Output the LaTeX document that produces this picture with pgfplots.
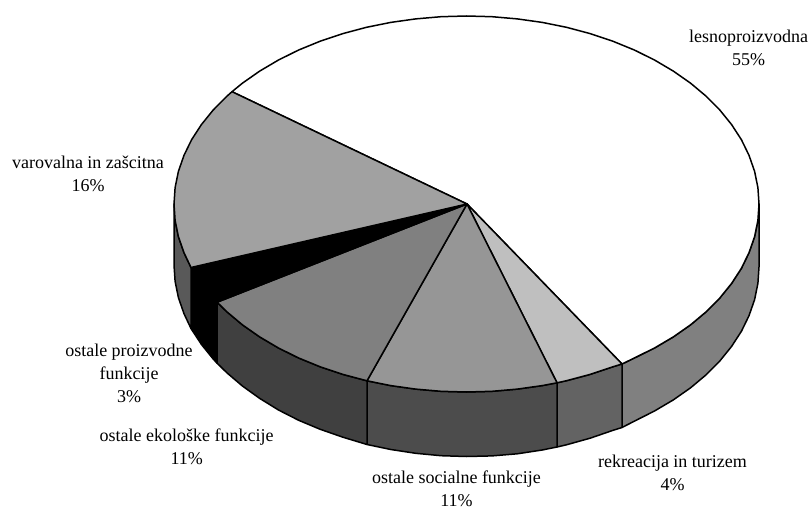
\documentclass[border=0pt]{standalone}
\usepackage{fontspec}
\setmainfont{Liberation Serif}
\usepackage{pgfplots}
\pgfplotsset{compat=1.18}
\definecolor{wallLes}{gray}{0.50}
\definecolor{wallRek}{gray}{0.39}
\definecolor{wallSoc}{gray}{0.30}
\definecolor{wallEko}{gray}{0.25}
\definecolor{wallVar}{gray}{0.35}
\definecolor{topRek}{gray}{0.75}
\definecolor{topSoc}{gray}{0.59}
\definecolor{topEko}{gray}{0.50}
\definecolor{topVar}{gray}{0.63}
\tikzset{lbl/.style={align=center, font=\fontsize{18}{23}\selectfont, text=black, inner sep=0pt}}
\begin{document}
\begin{tikzpicture}
\path[use as bounding box] (0,0) rectangle (811pt,508pt);
\begin{axis}[
  at={(0,0)}, anchor=south west,
  width=811pt, height=508pt, scale only axis,
  xmin=0, xmax=811, ymin=0, ymax=508, y dir=reverse,
  hide axis, clip=false,
  every axis plot/.append style={draw=black, line width=1.5pt, line join=round},
]
% side walls of the disc
\addplot[fill=wallLes] coordinates {(759,204)(757.9,220.4)(754.6,236.6)(749,252.7)(741.4,268.3)(731.6,283.4)(719.8,298)(706.1,311.8)(690.6,324.8)(673.3,336.9)(654.5,348)(634.3,358)(622,364)(622,427.5)(634.3,421.2)(654.5,411)(673.3,399.9)(690.6,387.8)(706.1,374.8)(719.8,361)(731.6,346.4)(741.4,331.3)(749,315.7)(754.6,299.6)(757.9,283.4)(759,267)} --cycle;
\addplot[fill=wallRek] coordinates {(622,364)(612.8,366.8)(590.1,374.4)(566.5,380.7)(557,382.8)(557,447)(566.5,444.8)(590.1,438.2)(612.8,430.4)(622,427.5)} --cycle;
\addplot[fill=wallSoc] coordinates {(557,382.8)(542.2,385.6)(517.3,389.1)(492,391.3)(466.5,392)(441,391.3)(415.7,389.1)(390.8,385.6)(367,380.8)(367,444.5)(390.8,449.5)(415.7,453.3)(441,455.7)(466.5,456.5)(492,455.9)(517.3,453.8)(542.2,450)(557,447)} --cycle;
\addplot[fill=wallEko] coordinates {(367,380.8)(342.9,374.4)(320.2,366.8)(298.7,358)(278.5,348)(259.7,336.9)(242.4,324.8)(226.9,311.8)(217.1,302.2)(217.1,363.2)(226.9,372.8)(242.4,386)(259.7,398.4)(278.5,410)(298.7,420.3)(320.2,429.3)(342.9,437.2)(367,444.5)} --cycle;
\addplot[fill=black] coordinates {(217.1,302.2)(213.2,298)(201.4,283.4)(191,267.5)(191,328.5)(201.4,344.4)(213.2,359)(217.1,363.2)} --cycle;
\addplot[fill=wallVar] coordinates {(191,267.5)(184,252.7)(178.4,236.6)(175.1,220.4)(174,204)(174,265)(175.1,281.4)(178.4,297.6)(184,313.7)(191,328.5)} --cycle;
% top faces of the slices
\addplot[fill=white] coordinates {(467,204)(232,91.7)(242.4,83.2)(259.7,71.1)(278.5,60)(298.7,50)(320.2,41.2)(342.9,33.6)(366.5,27.3)(390.8,22.4)(415.7,18.9)(441,16.7)(466.5,16)(492,16.7)(517.3,18.9)(542.2,22.4)(566.5,27.3)(590.1,33.6)(612.8,41.2)(634.3,50)(654.5,60)(673.3,71.1)(690.6,83.2)(706.1,96.2)(719.8,110)(731.6,124.6)(741.4,139.7)(749,155.3)(754.6,171.4)(757.9,187.6)(759,204)(757.9,220.4)(754.6,236.6)(749,252.7)(741.4,268.3)(731.6,283.4)(719.8,298)(706.1,311.8)(690.6,324.8)(673.3,336.9)(654.5,348)(634.3,358)(622,364)} --cycle;
\addplot[fill=topRek] coordinates {(467,204)(622,364)(612.8,366.8)(590.1,374.4)(566.5,380.7)(557,382.8)} --cycle;
\addplot[fill=topSoc] coordinates {(467,204)(557,382.8)(542.2,385.6)(517.3,389.1)(492,391.3)(466.5,392)(441,391.3)(415.7,389.1)(390.8,385.6)(367,380.8)} --cycle;
\addplot[fill=topEko] coordinates {(467,204)(367,380.8)(342.9,374.4)(320.2,366.8)(298.7,358)(278.5,348)(259.7,336.9)(242.4,324.8)(226.9,311.8)(217.1,302.2)} --cycle;
\addplot[fill=black] coordinates {(467,204)(217.1,302.2)(213.2,298)(201.4,283.4)(191,267.5)} --cycle;
\addplot[fill=topVar] coordinates {(467,204)(191,267.5)(184,252.7)(178.4,236.6)(175.1,220.4)(174,204)(175.1,187.6)(178.4,171.4)(184,155.3)(191.6,139.7)(201.4,124.6)(213.2,110)(226.9,96.2)(232,91.7)} --cycle;
% slice labels
\node[lbl] at (axis cs:748.7,47.5) {lesnoproizvodna\\55\%};
\node[lbl] at (axis cs:88,174) {varovalna in zašcitna\\16\%};
\node[lbl] at (axis cs:129,373) {ostale proizvodne\\funkcije\\3\%};
\node[lbl] at (axis cs:186.7,447) {ostale ekološke funkcije\\11\%};
\node[lbl] at (axis cs:456.5,489) {ostale socialne funkcije\\11\%};
\node[lbl] at (axis cs:672.5,472.5) {rekreacija in turizem\\4\%};
\end{axis}
\end{tikzpicture}
\end{document}
